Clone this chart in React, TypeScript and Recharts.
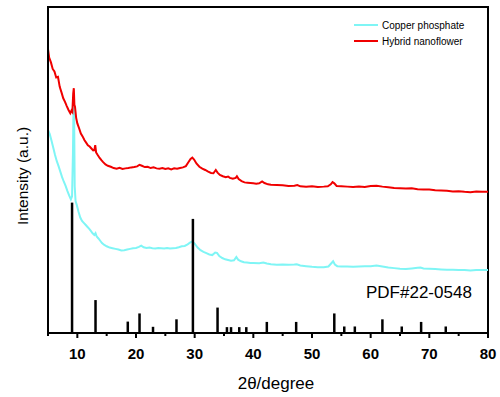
import React from 'react';
import { LineChart, Line, XAxis, YAxis, ReferenceLine, ReferenceArea, Legend } from 'recharts';

// hybrid nanoflower (red)
const hybridX = [5.0, 5.2, 5.5, 5.8, 6.1, 6.4, 6.7, 7.0, 7.3, 7.6, 7.9, 8.2, 8.5, 8.8, 9.0, 9.15, 9.3, 9.4, 9.5, 9.6, 9.8, 10.0, 10.3, 10.6, 10.9, 11.2, 11.5, 11.8, 12.1, 12.4, 12.7, 12.9, 13.05, 13.2, 13.5, 13.8, 14.1, 14.4, 14.8, 15.2, 15.7, 16.2, 16.7, 17.2, 17.7, 18.2, 18.7, 19.2, 19.7, 20.2, 20.6, 21.0, 21.5, 22.0, 22.5, 23.0, 23.5, 24.0, 24.5, 25.0, 25.5, 26.0, 26.5, 27.0, 27.5, 28.0, 28.5, 28.9, 29.3, 29.6, 29.9, 30.3, 30.8, 31.3, 31.8, 32.3, 32.8, 33.2, 33.6, 33.9, 34.3, 34.8, 35.3, 35.7, 36.0, 36.5, 37.0, 37.2, 37.5, 38.0, 38.5, 39.0, 39.5, 40.0, 40.5, 41.0, 41.5, 41.9, 42.5, 43.0, 44.0, 45.0, 46.0, 47.0, 47.5, 48.0, 49.0, 50.0, 51.0, 52.0, 52.7, 53.2, 53.5, 53.8, 54.2, 55.0, 56.0, 57.0, 58.0, 59.0, 60.0, 61.0, 62.0, 63.0, 64.0, 65.0, 66.0, 67.0, 68.0, 69.0, 70.0, 71.0, 72.0, 73.0, 74.0, 75.0, 76.0, 77.0, 78.0, 79.0, 80.0];
const hybridY = [87.1, 84.5, 83.0, 81.0, 80.2, 78.4, 78.6, 75.5, 73.8, 72.0, 70.9, 69.6, 68.4, 67.4, 68.2, 67.8, 73.5, 75.1, 70.0, 69.4, 66.0, 64.3, 62.8, 61.2, 60.3, 59.2, 58.4, 57.6, 57.2, 56.6, 56.0, 56.1, 57.6, 55.4, 54.5, 53.7, 53.0, 52.4, 51.7, 51.3, 51.0, 50.6, 50.4, 50.7, 50.3, 50.5, 50.6, 50.8, 50.9, 51.1, 51.6, 51.3, 50.9, 51.0, 50.6, 50.8, 50.5, 50.4, 50.6, 50.3, 50.5, 50.2, 50.5, 50.4, 50.6, 50.8, 51.2, 52.3, 53.4, 53.8, 53.2, 52.0, 51.0, 50.4, 50.0, 49.5, 49.1, 49.0, 50.0, 49.2, 48.5, 48.1, 47.8, 48.0, 47.6, 47.3, 47.6, 48.1, 47.2, 46.6, 46.2, 46.1, 46.0, 45.9, 45.8, 45.9, 46.5, 46.0, 45.6, 45.5, 45.4, 45.3, 45.1, 45.2, 45.4, 45.0, 44.9, 45.0, 44.8, 44.9, 45.0, 45.6, 46.3, 45.9, 45.1, 45.0, 44.9, 44.8, 44.9, 44.8, 45.1, 45.2, 44.9, 44.7, 44.5, 44.4, 44.3, 44.4, 44.1, 44.0, 44.0, 43.8, 43.7, 43.6, 43.4, 43.5, 43.3, 43.2, 43.4, 43.3, 43.3];

// copper phosphate (cyan)
const copperX = [5.0, 5.3, 5.6, 5.9, 6.2, 6.5, 6.8, 7.1, 7.4, 7.7, 8.0, 8.3, 8.6, 8.9, 9.1, 9.25, 9.35, 9.45, 9.55, 9.7, 9.9, 10.2, 10.5, 10.8, 11.1, 11.4, 11.7, 12.0, 12.3, 12.6, 12.9, 13.1, 13.3, 13.6, 13.9, 14.2, 14.6, 15.0, 15.5, 16.0, 16.5, 17.0, 17.5, 18.0, 18.5, 19.0, 19.5, 20.0, 20.5, 20.9, 21.3, 21.8, 22.3, 22.8, 23.3, 23.8, 24.3, 24.8, 25.3, 25.8, 26.3, 26.8, 27.3, 27.8, 28.3, 28.8, 29.2, 29.6, 30.0, 30.5, 31.0, 31.5, 32.0, 32.5, 33.0, 33.5, 33.8, 34.2, 34.7, 35.2, 35.7, 36.2, 36.7, 37.1, 37.4, 37.9, 38.4, 38.9, 39.5, 40.0, 41.0, 41.7, 42.3, 43.0, 44.0, 45.0, 46.0, 47.0, 47.4, 48.0, 49.0, 50.0, 51.0, 52.0, 52.8, 53.3, 53.6, 53.9, 54.3, 55.0, 56.0, 57.0, 58.0, 59.0, 60.0, 61.0, 62.0, 63.0, 64.0, 65.0, 66.0, 67.0, 68.0, 68.5, 69.0, 70.0, 71.0, 72.0, 73.0, 74.0, 75.0, 76.0, 77.0, 78.0, 79.0, 80.0];
const copperY = [62.3, 61.0, 59.0, 56.8, 54.6, 52.7, 51.2, 49.5, 47.8, 46.4, 45.1, 43.6, 42.2, 41.0, 41.9, 55.0, 69.5, 68.0, 45.0, 40.5, 39.3, 37.2, 35.4, 34.4, 33.8, 33.2, 32.6, 32.0, 31.3, 30.6, 30.1, 30.6, 29.6, 29.0, 28.3, 27.6, 27.0, 26.6, 26.2, 26.0, 25.8, 25.6, 25.3, 25.4, 25.6, 25.8, 26.0, 26.1, 26.4, 26.8, 26.3, 26.1, 26.2, 26.0, 25.9, 26.1, 26.0, 25.9, 26.1, 25.9, 26.0, 26.1, 26.3, 26.6, 26.7, 27.2, 27.7, 28.1, 27.4, 26.2, 25.4, 24.9, 24.5, 24.1, 23.9, 24.7, 24.6, 23.6, 23.0, 22.6, 22.4, 22.2, 22.3, 23.3, 22.5, 22.0, 21.7, 21.6, 21.5, 21.5, 21.4, 21.6, 21.3, 21.1, 20.9, 21.0, 20.9, 21.0, 21.1, 20.7, 20.5, 20.3, 20.2, 20.2, 20.4, 21.4, 22.0, 21.0, 20.5, 20.4, 20.4, 20.3, 20.4, 20.5, 20.5, 20.7, 20.4, 20.1, 19.9, 19.7, 19.6, 19.8, 20.0, 20.1, 19.8, 19.7, 19.6, 19.5, 19.4, 19.4, 19.3, 19.3, 19.2, 19.3, 19.3, 19.3];

// PDF#22-0548 reference sticks
const pdfPos = [9.1, 13.1, 18.6, 20.6, 22.9, 26.9, 29.7, 33.9, 35.5, 36.2, 37.6, 38.8, 42.3, 47.3, 53.8, 55.5, 57.3, 62.0, 65.3, 68.6, 72.8];
const pdfInt = [40, 10.1, 3.5, 6.0, 1.9, 4.2, 35, 7.8, 1.8, 1.8, 1.8, 1.8, 3.4, 3.4, 6.0, 2.0, 2.0, 4.2, 2.0, 3.4, 2.0];

const xTicks = [5, 10, 15, 20, 25, 30, 35, 40, 45, 50, 55, 60, 65, 70, 75, 80];

const hybridData = hybridX.map((x, i) => ({ x, y: hybridY[i] }));
const copperData = copperX.map((x, i) => ({ x, y: copperY[i] }));

const FONT = '"Liberation Sans", Arial, sans-serif';

const XTick = (props: any) => {
  const { x, y, payload } = props;
  const major = payload.value % 10 === 0;
  return (
    <g>
      <line x1={x} y1={y} x2={x} y2={y + (major ? 5 : 3)} stroke="#000" strokeWidth={2} />
      {major && (
        <text x={x} y={y + 26} textAnchor="middle" fontSize={15} fontWeight="bold" fontFamily={FONT} fill="#000">
          {payload.value}
        </text>
      )}
    </g>
  );
};

const YLabel = (props: any) => {
  const vb = props.viewBox || {};
  const cy = (vb.y || 0) + (vb.height || 0) / 2 + 6;
  return (
    <text x={0} y={0} transform={`translate(28, ${cy}) rotate(-90)`} textAnchor="middle" fontSize={15.5} fontFamily={FONT} fill="#000">
      Intensity (a.u.)
    </text>
  );
};

const XLabel = (props: any) => {
  const vb = props.viewBox || {};
  const cx = (vb.x || 0) + (vb.width || 0) / 2 + 8;
  return (
    <text x={cx} y={389} textAnchor="middle" fontSize={17} fontFamily={FONT} fill="#000">
      2θ/degree
    </text>
  );
};

const LegendBox = (props: any) => {
  const { payload } = props;
  return (
    <div style={{ fontFamily: FONT, fontSize: 10, color: '#000' }}>
      {(payload || []).map((p: any) => (
        <div key={p.value} style={{ display: 'flex', alignItems: 'center', height: 16 }}>
          <div style={{ width: 24, height: 1.5, background: p.color, marginRight: 4 }} />
          <span>{p.value}</span>
        </div>
      ))}
    </div>
  );
};

export default function App() {
  return (
    <div style={{ position: 'absolute', left: 0, top: 0, background: '#fff' }}>
      <LineChart width={500} height={397} margin={{ top: 7, right: 12, left: 0, bottom: 0 }}>
        <XAxis
          type="number"
          dataKey="x"
          domain={[5, 80]}
          ticks={xTicks}
          interval={0}
          allowDataOverflow
          height={64}
          axisLine={{ stroke: '#000', strokeWidth: 2 }}
          tickLine={false}
          tickSize={0}
          tickMargin={0}
          tick={<XTick />}
          label={<XLabel />}
        />
        <YAxis
          type="number"
          domain={[0, 100]}
          width={48}
          tick={false}
          tickLine={false}
          axisLine={{ stroke: '#000', strokeWidth: 2 }}
          label={<YLabel />}
        />
        <ReferenceArea x1={5} x2={80} y1={0} y2={100} fill="none" stroke="#000" strokeWidth={2} ifOverflow="visible" />
        <Legend
          verticalAlign="middle"
          align="center"
          layout="vertical"
          content={<LegendBox />}
          wrapperStyle={{ top: 17, left: 354, width: 130, height: 32 }}
        />
        <Line
          data={copperData}
          dataKey="y"
          name="Copper phosphate"
          type="linear"
          stroke="#7ff5f5"
          strokeWidth={2}
          dot={false}
          isAnimationActive={false}
        />
        <Line
          data={hybridData}
          dataKey="y"
          name="Hybrid nanoflower"
          type="linear"
          stroke="#f00000"
          strokeWidth={2}
          dot={false}
          isAnimationActive={false}
        />
        {pdfPos.map((p, i) => (
          <ReferenceLine
            key={p}
            segment={[{ x: p, y: 0 }, { x: p, y: pdfInt[i] }]}
            stroke="#000"
            strokeWidth={2.5}
          />
        ))}
        <text x={366} y={298} fontSize={17} fontFamily={FONT} fill="#000">
          PDF#22-0548
        </text>
      </LineChart>
    </div>
  );
}
